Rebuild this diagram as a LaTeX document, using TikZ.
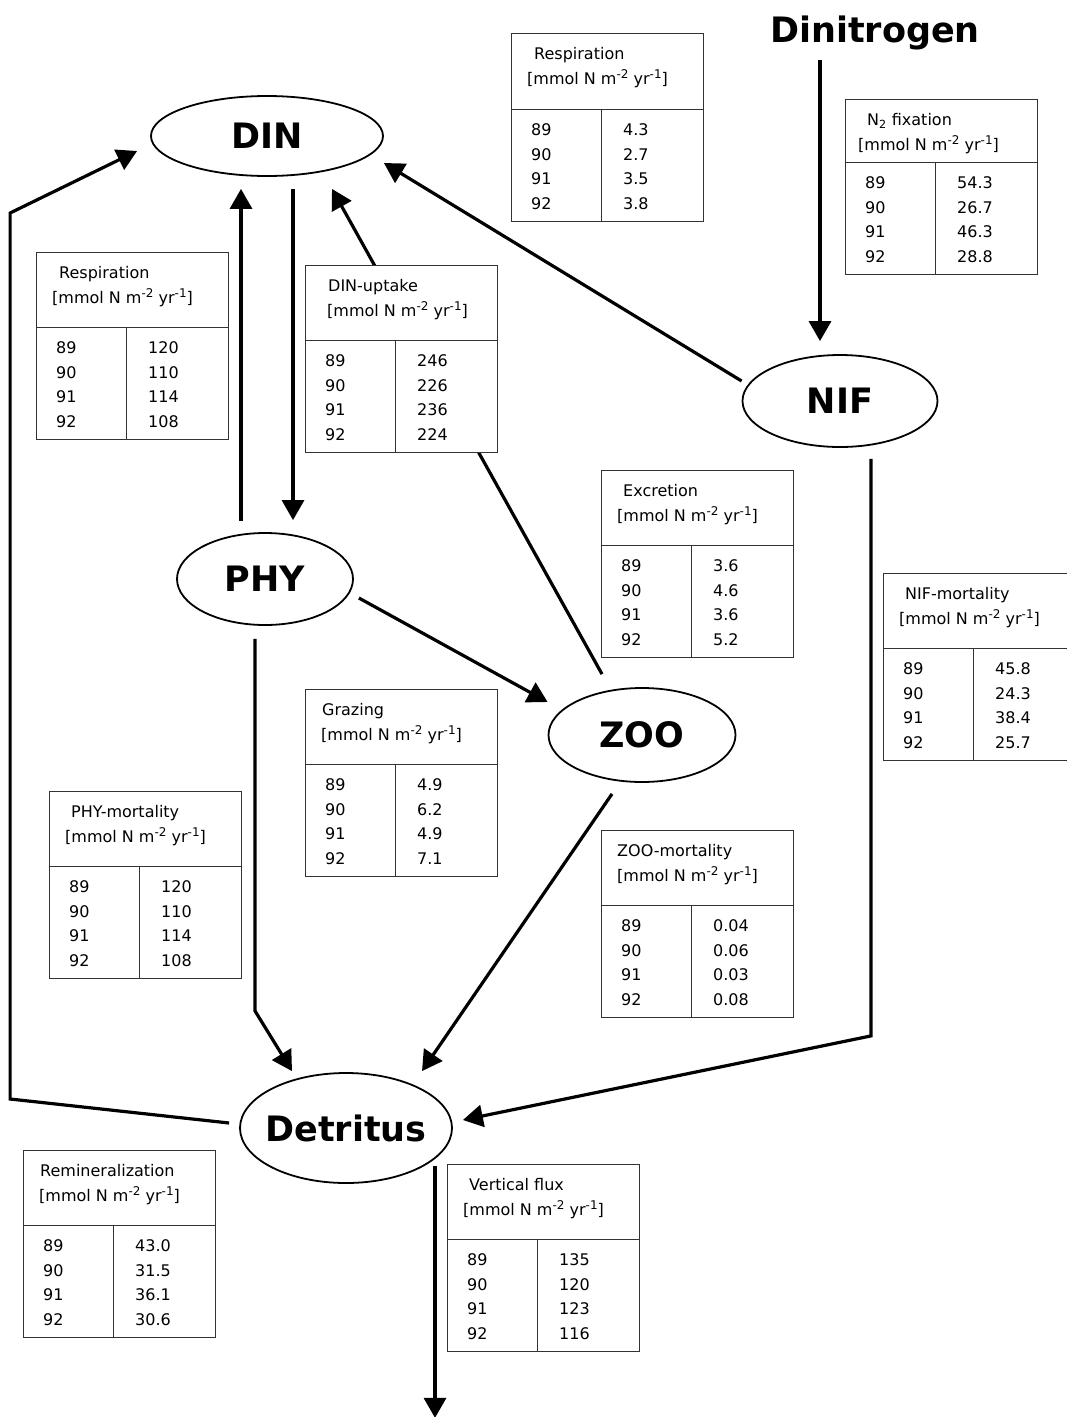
\documentclass[tikz,border=0pt]{standalone}
\usepackage{fontspec}
\setmainfont{DejaVu Sans}
\usetikzlibrary{arrows.meta, shapes.geometric}

\tikzset{
  pool/.style={draw, ellipse, line width=1.8pt, inner sep=0pt, font=\bfseries\fontsize{35}{40}\selectfont},
  flow/.style={line width=3.2pt, -{Triangle[length=20pt,width=22pt]}},
  tabbox/.style={draw=black!80, fill=white, line width=1pt, anchor=north west, minimum width=192pt, inner sep=0pt},
  tabline/.style={draw=black!80, line width=1pt},
  tabtxt/.style={anchor=west, inner sep=0pt, text height=11.5pt, text depth=0pt, font=\fontsize{16}{19}\selectfont}
}

\newcommand{\poolname}[1]{\makebox[0pt]{#1}}
\newcommand{\unitsup}[1]{\raisebox{6pt}{\fontsize{12}{12}\selectfont #1}}
\newcommand{\unitline}{[mmol N m\unitsup{-2} yr\unitsup{-1}]}

% flux table: [head, tx, ux] name, top left, title, values for 89..92
\pgfkeys{/fluxtab/.cd, head/.initial=75, tx/.initial=22, ux/.initial=16}
\newcommand{\fluxtable}[8][]{%
  \pgfkeys{/fluxtab/.cd, head=75, tx=22, ux=16, #1}%
  \edef\tbhd{\pgfkeysvalueof{/fluxtab/head}}%
  \edef\tbtx{\pgfkeysvalueof{/fluxtab/tx}}%
  \edef\tbux{\pgfkeysvalueof{/fluxtab/ux}}%
  \node[tabbox, minimum height=\tbhd pt+112pt] (#2) at (#3) {};
  \draw[tabline] ([yshift=-\tbhd pt]#2.north west) -- ([yshift=-\tbhd pt]#2.north east);
  \draw[tabline] ([xshift=90pt,yshift=-\tbhd pt]#2.north west) -- ([xshift=90pt]#2.south west);
  \node[tabtxt] (#2-title) at ([xshift=\tbtx pt,yshift=-21pt]#2.north west) {#4};
  \node[tabtxt] (#2-unit) at ([xshift=\tbux pt,yshift=-46pt]#2.north west) {\unitline};
  \foreach \yr/\val [count=\i from 0] in {89/#5,90/#6,91/#7,92/#8}{
    \node[tabtxt] (#2-\yr) at ([xshift=20pt,yshift=-\tbhd pt-21pt-24.6pt*\i]#2.north west) {\yr};
    \node[tabtxt] (#2-v\yr) at ([xshift=112pt,yshift=-\tbhd pt-21pt-24.6pt*\i]#2.north west) {\val};
  }%
}

\begin{document}
\begin{tikzpicture}[x=1pt, y=-1pt]
  \useasboundingbox (0,0) rectangle (1067,1417);

  % pools
  \node[pool, minimum width=232pt, minimum height=80pt] (din) at (267,136) {\poolname{DIN}};
  \node[pool, minimum width=176pt, minimum height=92pt] (phy) at (265,579) {\poolname{PHY}};
  \node[pool, minimum width=195pt, minimum height=92pt] (nif) at (840,401) {\poolname{NIF}};
  \node[pool, minimum width=187pt, minimum height=94pt] (zoo) at (642,735) {\poolname{ZOO}};
  \node[pool, minimum width=212pt, minimum height=110pt] (det) at (346,1128) {\poolname{Detritus}};
  \node[font=\bfseries\fontsize{35}{40}\selectfont, inner sep=0pt, anchor=base] (dinitrogen) at (875,42) {Dinitrogen};

  % fluxes
  \draw[flow, shorten <=10pt] ([xshift=-20pt]nif.north |- dinitrogen.south) -- ([xshift=-20pt,yshift=13pt]nif.north);
  \draw[flow] ([yshift=20pt]nif.west) -- ([yshift=-27pt]din.east);
  \draw[flow, shorten <=11pt, shorten >=12pt] ([xshift=-24pt]phy.north) -- ([xshift=-24pt]phy.north |- din.south);
  \draw[flow, shorten <=12pt, shorten >=12pt] ([xshift=26pt]din.south) -- ([xshift=26pt]din.south |- phy.north);
  \draw[flow] ([shift={(-40pt,13pt)}]zoo.north) -- ([shift={(65pt,-12pt)}]din.south);
  \draw[flow] ([shift={(5pt,-19pt)}]phy.east) -- ([yshift=33pt]zoo.west);
  \draw[flow] ([shift={(-10pt,-13pt)}]phy.south) -- ++(0,372) -- ([shift={(-54pt,1pt)}]det.north);
  \draw[flow] ([shift={(-30pt,-11pt)}]zoo.south) -- ([shift={(76pt,1pt)}]det.north);
  \draw[flow] ([shift={(31pt,-11pt)}]nif.south) -- ++(0,577) -- ([shift={(10pt,8pt)}]det.east);
  \draw[flow] ([shift={(-10pt,5pt)}]det.west) -- ++(-219,-24) -- ++(0,-886) -- ([shift={(-13pt,-15pt)}]din.west);
  \draw[flow] ([shift={(89pt,18pt)}]det.south) -- ++(0,252);

  % tables
  \fluxtable[head=76, tx=23]{resptop}{511,33}{Respiration}{4.3}{2.7}{3.5}{3.8}
  \fluxtable[head=63, ux=13]{fix}{845,99}{N\textsubscript{2} fixation}{54.3}{26.7}{46.3}{28.8}
  \fluxtable[tx=23]{resp}{36,252}{Respiration}{120}{110}{114}{108}
  \fluxtable[tx=23, ux=22]{uptake}{305,265}{DIN-uptake}{246}{226}{236}{224}
  \fluxtable{excr}{601,470}{Excretion}{3.6}{4.6}{3.6}{5.2}
  \fluxtable{nifmort}{883,573}{NIF-mortality}{45.8}{24.3}{38.4}{25.7}
  \fluxtable[tx=17]{graz}{305,689}{Grazing}{4.9}{6.2}{4.9}{7.1}
  \fluxtable{phymort}{49,791}{PHY-mortality}{120}{110}{114}{108}
  \fluxtable[tx=16]{zoomort}{601,830}{ZOO-mortality}{0.04}{0.06}{0.03}{0.08}
  \fluxtable[tx=17]{remin}{23,1150}{Remineralization}{43.0}{31.5}{36.1}{30.6}
  \fluxtable{vflux}{447,1164}{Vertical flux}{135}{120}{123}{116}
\end{tikzpicture}
\end{document}
